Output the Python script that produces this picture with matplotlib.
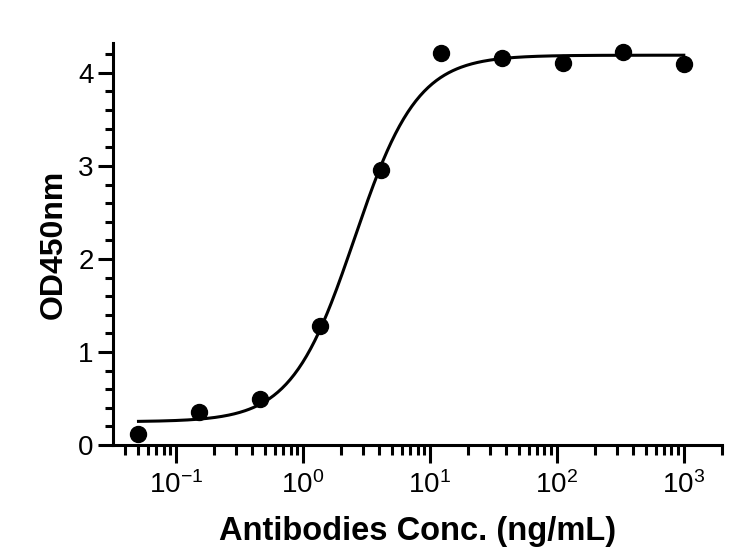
import numpy as np
import matplotlib
matplotlib.use("Agg")
from matplotlib import pyplot as plt
from matplotlib.ticker import LogLocator, FixedLocator, NullFormatter, FuncFormatter

plt.rcParams['font.family'] = ['Liberation Sans', 'DejaVu Sans']
plt.rcParams['mathtext.fontset'] = 'custom'
plt.rcParams['mathtext.rm'] = 'Liberation Sans'

# measured points (3-fold dilution from 1000 ng/mL)
conc = [1000 / 3**k for k in range(9, -1, -1)]
od450 = [0.12, 0.36, 0.49, 1.28, 2.96, 4.21, 4.16, 4.11, 4.22, 4.10]

# 4PL fit parameters
bottom, top, ec50, hill = 0.25, 4.19, 2.55, 1.75

xs = np.logspace(np.log10(min(conc)), np.log10(max(conc)), 400)
ys = bottom + (top - bottom) / (1 + (ec50 / xs) ** hill)

fig = plt.figure(figsize=(7.4, 5.59), dpi=100)
ax = fig.add_axes([0.1527, 0.2039, 0.823, 0.719])

ax.plot(xs, ys, color='black', lw=2.2, zorder=2)
ax.plot(conc, od450, 'o', color='black', ms=11.5, zorder=3)

ax.set_xscale('log')
ax.set_xlim(0.032, 2000)
ax.set_ylim(0, 4.32)


def pow_label(v, pos):
    k = int(round(np.log10(v)))
    return r'$\mathregular{10^{%d}}$' % k


ax.xaxis.set_major_locator(LogLocator(base=10, numticks=10))
ax.xaxis.set_major_formatter(FuncFormatter(pow_label))
ax.xaxis.set_minor_locator(LogLocator(base=10, subs=np.arange(2, 10), numticks=20))
ax.xaxis.set_minor_formatter(NullFormatter())
ax.yaxis.set_major_locator(FixedLocator([0, 1, 2, 3, 4]))
ax.yaxis.set_minor_locator(FixedLocator(np.arange(0, 4.3, 0.2)))

for s in ['top', 'right']:
    ax.spines[s].set_visible(False)
for s in ['left', 'bottom']:
    ax.spines[s].set_linewidth(2.2)

ax.tick_params(which='major', direction='out', width=2.2, labelsize=20, pad=3)
ax.tick_params(axis='y', which='major', length=11)
ax.tick_params(axis='y', which='minor', length=6, width=2.2)
ax.tick_params(axis='x', which='major', length=13, pad=6)
ax.tick_params(axis='x', which='minor', length=7, width=2.2)

ax.set_xlabel('Antibodies Conc. (ng/mL)', fontsize=23.5, fontweight='bold', labelpad=12)
ax.set_ylabel('OD450nm', fontsize=23, fontweight='bold', labelpad=7)

fig.savefig('out.png', dpi=100)
